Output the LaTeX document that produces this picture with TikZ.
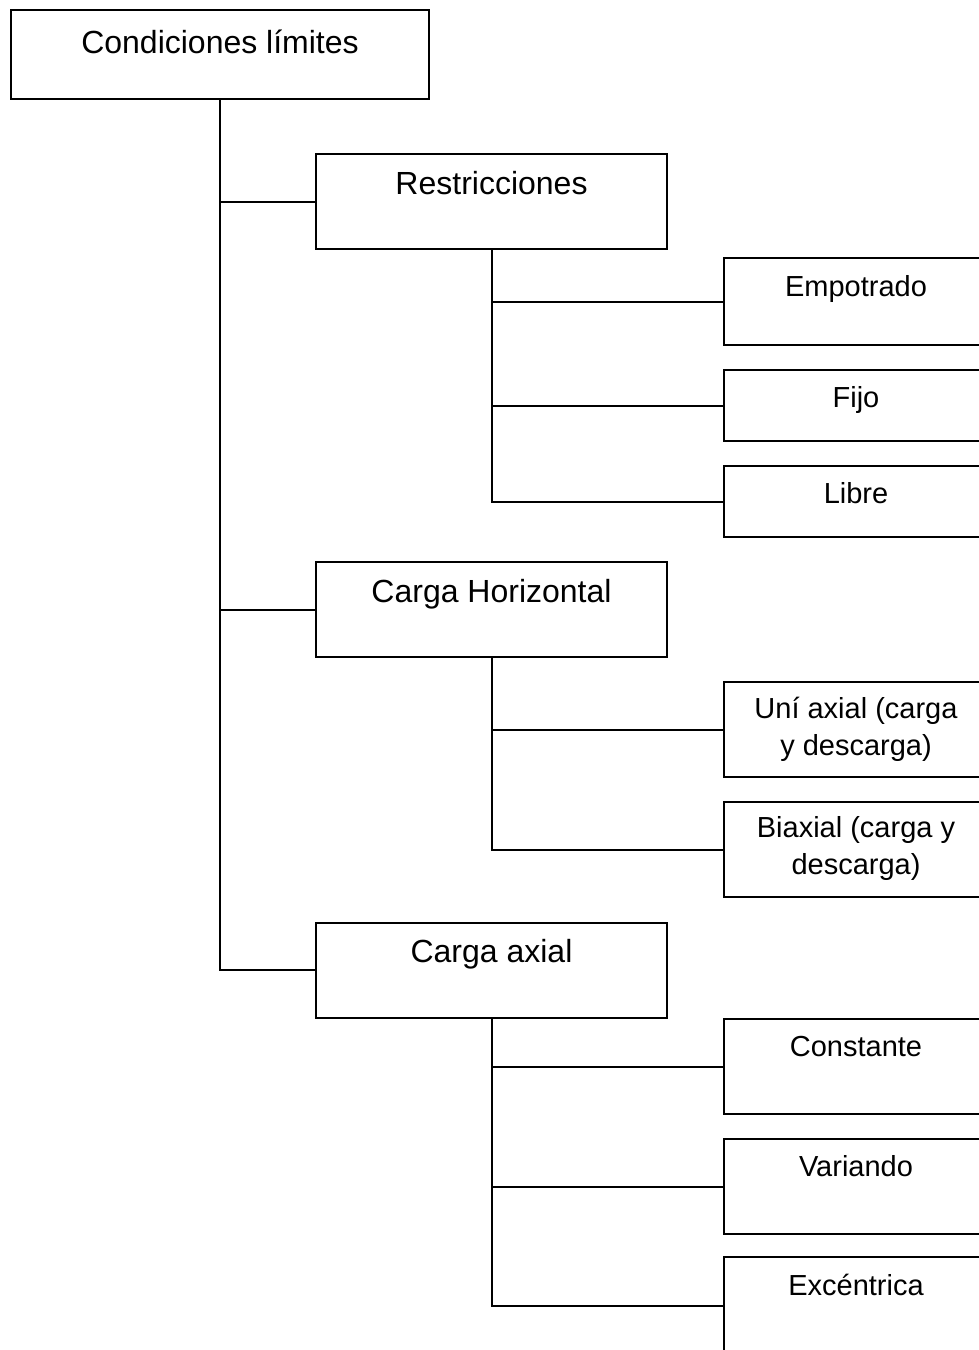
\documentclass[tikz,border=0pt]{standalone}
\usepackage{fontspec}
\setmainfont{Liberation Sans}
\begin{document}
\begin{tikzpicture}[x=1pt,y=-1pt,
  box/.style={draw=black, line width=2pt, inner sep=0pt, fill=white},
  rootbox/.style={box, minimum width=418pt, minimum height=89pt},
  midbox/.style={box, minimum width=351pt, minimum height=95pt},
  leafbox/.style={box, minimum width=264pt},
  bigtxt/.style={anchor=base, inner sep=0pt, font=\fontsize{32}{38}\selectfont},
  smalltxt/.style={anchor=base, inner sep=0pt, align=center, font=\fontsize{29}{36.5}\selectfont},
  link/.style={draw=black, line width=2pt}
]
\path[use as bounding box, fill=white] (0,0) rectangle (979,1350);
\clip (0,0) rectangle (979,1350);

% box centres of the upper levels
\coordinate (rootc) at (220,54.5);
\coordinate (restrc) at (491.5,201.5);
\coordinate (chc) at (491.5,609.5);
\coordinate (cac) at (491.5,970);

% boxes
\node[rootbox] (root) at (rootc) {};
\node[midbox] (restr) at (restrc) {};
\node[midbox] (ch) at (chc) {};
\node[midbox] (ca) at (cac) {};

\node[leafbox, minimum height=87pt] (emp) at (856,301.5) {};
\node[leafbox, minimum height=71pt] (fijo) at (856,405.5) {};
\node[leafbox, minimum height=71pt] (libre) at (856,501.5) {};
\node[leafbox, minimum height=95pt] (uni) at (856,729.5) {};
\node[leafbox, minimum height=95pt] (biax) at (856,849.5) {};
\node[leafbox, minimum height=95pt] (const) at (856,1066.5) {};
\node[leafbox, minimum height=95pt] (var) at (856,1186.5) {};
\node[leafbox, minimum height=97pt] (exc) at (856,1305.5) {};

% tree connectors
\draw[link] (root.south) |- (restr.west);
\draw[link] (root.south) |- (ch.west);
\draw[link] (root.south) |- (ca.west);

\draw[link] (restr.south) |- (emp.west);
\draw[link] (restr.south) |- (fijo.west);
\draw[link] (restr.south) |- (libre.west);

\draw[link] (ch.south) |- (uni.west);
\draw[link] (ch.south) |- (biax.west);

\draw[link] (ca.south) |- (const.west);
\draw[link] (ca.south) |- (var.west);
\draw[link] (ca.south) |- (exc.west);

% labels (base anchor = baseline of the last line)
\node[bigtxt] (tRoot) at (220,53) {Condiciones límites};
\node[bigtxt] (tRestr) at (491.5,194) {Restricciones};
\node[bigtxt] (tCh) at (491.5,602) {Carga Horizontal};
\node[bigtxt] (tCa) at (491.5,962) {Carga axial};

\node[smalltxt] (tEmp) at (856,296) {Empotrado};
\node[smalltxt] (tFijo) at (856,407.5) {Fijo};
\node[smalltxt] (tLibre) at (856,503.5) {Libre};
\node[smalltxt] (tUni) at (856,755) {Uní axial (carga\\y descarga)};
\node[smalltxt] (tBiax) at (856,874) {Biaxial (carga y\\descarga)};
\node[smalltxt] (tConst) at (856,1056) {Constante};
\node[smalltxt] (tVar) at (856,1176) {Variando};
\node[smalltxt] (tExc) at (856,1295) {Excéntrica};
\end{tikzpicture}
\end{document}
